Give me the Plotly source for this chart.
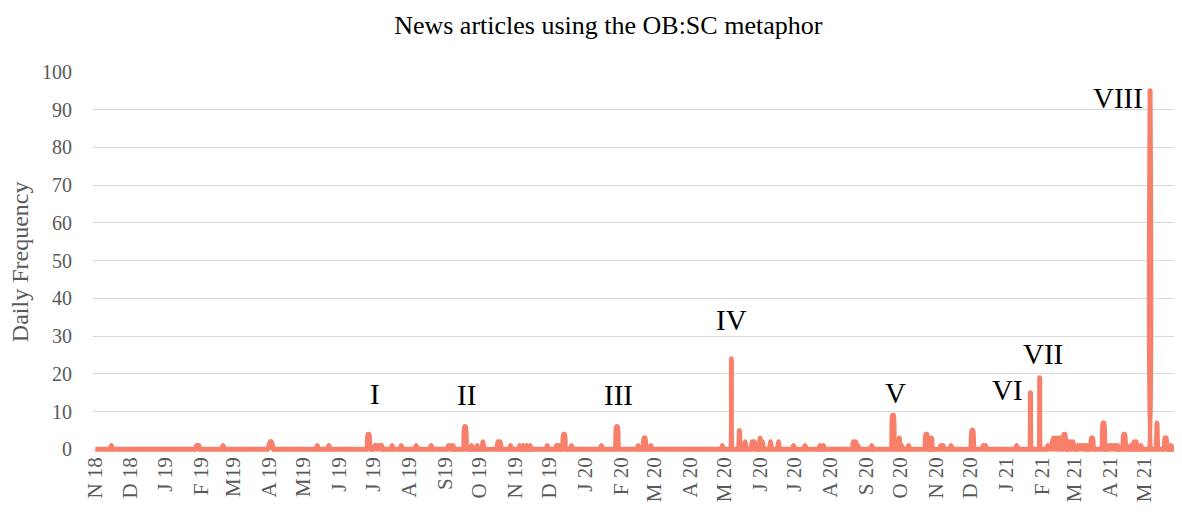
import pandas as pd
import plotly.graph_objects as go

# ---------------- data ----------------
start_date = "2018-11-01"
end_date = "2021-05-31"

spike_dates = [
    "2018-11-15",
    "2019-01-28", "2019-01-29", "2019-01-30", "2019-02-20",
    "2019-04-01", "2019-04-02", "2019-04-03", "2019-04-04",
    "2019-05-13", "2019-05-23",
    "2019-06-26", "2019-06-27",
    "2019-07-02", "2019-07-03", "2019-07-05", "2019-07-07", "2019-07-08",
    "2019-07-17", "2019-07-25", "2019-08-07", "2019-08-20",
    "2019-09-04", "2019-09-06", "2019-09-08",
    "2019-09-18", "2019-09-19", "2019-09-24", "2019-09-29",
    "2019-10-04", "2019-10-17", "2019-10-19", "2019-10-28",
    "2019-11-05", "2019-11-08", "2019-11-11", "2019-11-14", "2019-11-29",
    "2019-12-07", "2019-12-09", "2019-12-13", "2019-12-14", "2019-12-20",
    "2020-01-15", "2020-01-28", "2020-01-29",
    "2020-02-16", "2020-02-21", "2020-02-22", "2020-02-27",
    "2020-04-29", "2020-05-07", "2020-05-14", "2020-05-19", "2020-05-25",
    "2020-05-27", "2020-06-01", "2020-06-03", "2020-06-10", "2020-06-17",
    "2020-06-30", "2020-07-10", "2020-07-23", "2020-07-26",
    "2020-08-21", "2020-08-23", "2020-08-25", "2020-09-06",
    "2020-09-24", "2020-09-25", "2020-09-30", "2020-10-02", "2020-10-08",
    "2020-10-23", "2020-10-24", "2020-10-28",
    "2020-11-05", "2020-11-07", "2020-11-14",
    "2020-12-02", "2020-12-03", "2020-12-12", "2020-12-14",
    "2021-01-10", "2021-01-22", "2021-01-30",
    "2021-02-06", "2021-02-08", "2021-02-10", "2021-02-11", "2021-02-13",
    "2021-02-15", "2021-02-17", "2021-02-20", "2021-02-21", "2021-02-24",
    "2021-02-26", "2021-02-28",
    "2021-03-04", "2021-03-06", "2021-03-08", "2021-03-10", "2021-03-12",
    "2021-03-16", "2021-03-17", "2021-03-26", "2021-03-27", "2021-03-31",
    "2021-04-02", "2021-04-04", "2021-04-06", "2021-04-08",
    "2021-04-13", "2021-04-14", "2021-04-19", "2021-04-22", "2021-04-24",
    "2021-04-28",
    "2021-05-06", "2021-05-12", "2021-05-19", "2021-05-20", "2021-05-24",
    "2021-05-29", "2021-05-31",
]
spike_values = [
    1,
    1, 1, 1, 1,
    1, 2, 2, 1,
    1, 1,
    4, 4,
    1, 1, 1, 1, 1,
    1, 1, 1, 1,
    1, 1, 1,
    6, 6, 1, 1,
    2, 2, 2, 1,
    1, 1, 1, 1, 1,
    1, 1, 4, 4, 1,
    1, 6, 6,
    1, 3, 3, 1,
    1, 24, 5, 2, 2,
    2, 3, 2, 2, 2,
    1, 1, 1, 1,
    2, 2, 1, 1,
    9, 9, 3, 1, 1,
    4, 4, 3,
    1, 1, 1,
    5, 5, 1, 1,
    1, 15, 19,
    1, 1, 2, 3, 3,
    3, 3, 4, 4, 2,
    2, 2,
    1, 1, 1, 1, 1,
    3, 3, 7, 7, 1,
    1, 1, 1, 1,
    4, 4, 1, 2, 2,
    1,
    95, 7, 3, 3, 1,
    2, 2,
]

tick_labels = ["N 18", "D 18", "J 19", "F 19", "M19", "A 19", "M19", "J 19",
               "J 19", "A 19", "S19", "O 19", "N 19", "D 19", "J 20", "F 20",
               "M 20", "A 20", "M 20", "J 20", "J 20", "A 20", "S 20", "O 20",
               "N 20", "D 20", "J 21", "F 21", "M 21", "A 21", "M 21"]

peak_labels = ["I", "II", "III", "IV", "V", "VI", "VII", "VIII"]
peak_label_dates = ["2019-07-02", "2019-09-20", "2020-01-30", "2020-05-07",
                    "2020-09-27", "2021-01-02", "2021-02-02", "2021-04-08"]
peak_label_y = [14.8, 14.3, 14.3, 34.2, 14.9, 15.6, 25.2, 93.1]

# ---------------- build daily series ----------------
days = pd.date_range(start_date, end_date, freq="D")
daily = pd.Series(0, index=days, dtype=float)
daily.loc[pd.to_datetime(spike_dates)] = spike_values
tick_dates = pd.date_range("2018-11-01", "2021-05-01", freq="MS")

SERIF = "Liberation Serif, Times New Roman, serif"
GRAY = "#595959"

fig = go.Figure()
fig.add_trace(go.Scatter(
    x=daily.index, y=daily.values, mode="lines",
    line=dict(color="#F8806A", width=5, shape="spline", smoothing=0.6),
    showlegend=False, hoverinfo="x+y",
))

annotations = []
for txt, d, yv in zip(peak_labels, peak_label_dates, peak_label_y):
    annotations.append(dict(x=d, y=yv, xref="x", yref="y", text=txt,
                            showarrow=False, xanchor="center", yanchor="middle",
                            font=dict(family=SERIF, size=29, color="#000000")))
annotations.append(dict(x=-0.067, y=0.5, xref="paper", yref="paper",
                        text="Daily Frequency", textangle=-90, showarrow=False,
                        xanchor="center", yanchor="middle",
                        font=dict(family=SERIF, size=24, color=GRAY)))

# the page body adds an 8 px offset, so the figure is sized/margined to fit
fig.update_layout(
    width=1174, height=508,
    paper_bgcolor="white", plot_bgcolor="white",
    margin=dict(l=85, r=2, t=64, b=64, pad=0, autoexpand=False),
    title=dict(text="News articles using the OB:SC metaphor",
               font=dict(family=SERIF, size=26, color="#000000"),
               xref="paper", x=0.474, xanchor="center",
               yref="container", y=0.985, yanchor="top"),
    annotations=annotations,
    xaxis=dict(type="date", range=["2018-10-30", "2021-06-01"],
               tickmode="array", tickvals=tick_dates, ticktext=tick_labels,
               tickangle=-90, showgrid=False, zeroline=False, showline=False,
               ticks="", tickfont=dict(family=SERIF, size=21, color=GRAY)),
    yaxis=dict(range=[-0.7, 100], tickmode="array",
               tickvals=list(range(0, 101, 10)),
               showgrid=True, gridcolor="#D9D9D9", gridwidth=1,
               zeroline=False, showline=False, ticks="",
               ticklabelstandoff=20,
               tickfont=dict(family=SERIF, size=20, color=GRAY)),
)

fig.write_html("out.html")
